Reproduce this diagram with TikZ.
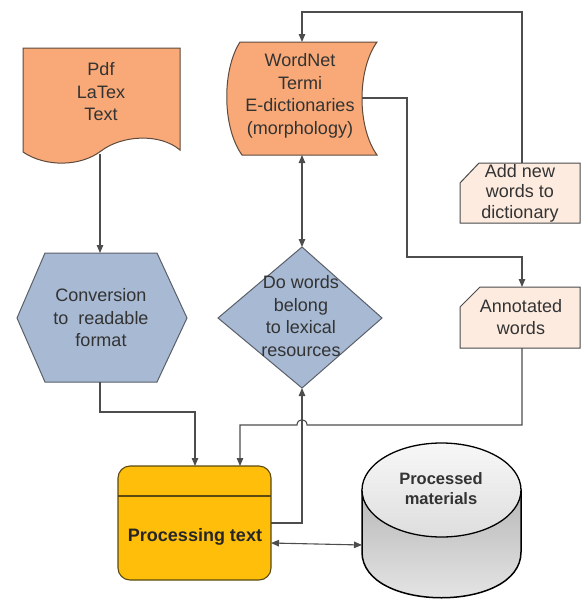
\documentclass[tikz,border=0pt]{standalone}
\usepackage{fontspec}
\setmainfont{Liberation Sans}
\usetikzlibrary{arrows.meta}
\definecolor{orangefill}{HTML}{F8A977}
\definecolor{orangeline}{HTML}{5E4A3C}
\definecolor{bluefill}{HTML}{A7B9D3}
\definecolor{blueline}{HTML}{5A5F68}
\definecolor{cardfill}{HTML}{FDEBDF}
\definecolor{cardline}{HTML}{4A4A4A}
\definecolor{procfill}{HTML}{FFBE0A}
\definecolor{procline}{HTML}{5A4A10}
\definecolor{linegray}{HTML}{4D4D4D}
\definecolor{textgray}{HTML}{333333}
\begin{document}
\begin{tikzpicture}[x=1pt,y=-1pt,line join=miter,
  conn/.style={draw=linegray,line width=1.1pt},
  arr/.style={-{Triangle[length=8pt,width=6.5pt]}},
  darr/.style={{Triangle[length=8pt,width=6.5pt]}-{Triangle[length=8pt,width=6.5pt]}},
  lbl/.style={align=center,font=\fontsize{18}{22.5}\selectfont,text=textgray,inner sep=0pt},
  orangeshape/.style={fill=orangefill,draw=orangeline,line width=1pt},
  blueshape/.style={fill=bluefill,draw=blueline,line width=1pt},
  cardshape/.style={fill=cardfill,draw=cardline,line width=1pt}]
\useasboundingbox (0,0) rectangle (581,600);

% Document shape
\path[orangeshape] (23,48) -- (180,48) -- (180,150)
  .. controls (160,133) and (122,135) .. (101,151)
  .. controls (80,167) and (45,167) .. (23,152) -- cycle;
\node[lbl] (doc) at (101,92) {Pdf\\LaTex\\Text};
\coordinate (docB) at (100,154);

% Stored data shape
\path[orangeshape] (240,42) -- (377,42)
  .. controls (357,70) and (357,127) .. (377,155)
  -- (242,155)
  .. controls (222,127) and (222,70) .. (240,42) -- cycle;
\node[lbl] (wn) at (300,96) {WordNet\\Termi\\E-dictionaries\\(morphology)};
\coordinate (wnT) at (302,42);
\coordinate (wnB) at (302,155);
\coordinate (wnR) at (362,98);

% Hexagon
\path[blueshape] (45,253) -- (157,253) -- (187,318) -- (157,382) -- (45,382) -- (17,318) -- cycle;
\node[lbl] (hex) at (101,318) {Conversion\\to\ \ readable\\format};
\coordinate (hexT) at (100,253);
\coordinate (hexB) at (100,382);

% Diamond
\path[blueshape] (302,247) -- (382,318) -- (302,388) -- (218,318) -- cycle;
\node[lbl] (dia) at (301,316) {Do words\\belong\\to lexical\\resources};
\coordinate (diaT) at (302,247);
\coordinate (diaB) at (302,388);

% Cards
\path[cardshape] (479,163) -- (580,163) -- (580,223) -- (460,223) -- (460,183) -- cycle;
\node[lbl,font=\fontsize{18}{20.5}\selectfont] (add) at (520,193) {Add new\\words to\\dictionary};
\coordinate (addT) at (522,163);

\path[cardshape] (480,287) -- (580,287) -- (580,348) -- (460,348) -- (460,307) -- cycle;
\node[lbl,font=\fontsize{18}{22}\selectfont] (ann) at (521,317) {Annotated\\words};
\coordinate (annT) at (522,287);
\coordinate (annB) at (522,348);

% Processing text
\draw[fill=procfill,draw=procline,line width=1.1pt,rounded corners=12pt] (118,466) rectangle (271,580);
\draw[draw=procline,line width=1.1pt] (118,496) -- (271,496);
\node[lbl,font=\bfseries\fontsize{18}{22}\selectfont,text=black!85] (proc) at (195,537) {Processing text};
\coordinate (procT1) at (195,466);
\coordinate (procT2) at (240,466);
\coordinate (procR1) at (271,523);
\coordinate (procR2) at (271,543);

% Cylinder
\shade[top color=black!28,bottom color=black!8,draw=black,line width=1.5pt]
  (362,490) -- (362,552) .. controls (362,613) and (521,613) .. (521,552)
  -- (521,490) -- cycle;
\shade[top color=black!3,bottom color=black!13,draw=black,line width=1.3pt]
  (441.5,490) ellipse [x radius=79.5pt,y radius=47pt];
\node[lbl,font=\bfseries\fontsize{16.5}{20}\selectfont] (cyl) at (441,489) {Processed\\materials};
\coordinate (cylL) at (362,545);

% Connectors
\draw[conn,arr] (docB) -- (hexT);
\draw[conn,arr] (hexB) -- ++(0,30) -| (procT1);
\draw[conn,arr] (addT) -- ++(0,-151) -| (wnT);
\draw[conn,darr] (wnB) -- (diaT);
\draw[conn,arr] (wnR) -- ++(45,0) -- ++(0,159) -| (annT);
\draw[conn,arr] (annB) -- ++(0,77) -- (307,425)
  .. controls (307,418) and (297,418) .. (297,425) -| (procT2);
\draw[conn,arr] (procR1) -| (diaB);
\draw[conn,darr] (procR2) -- (cylL);
\end{tikzpicture}
\end{document}
